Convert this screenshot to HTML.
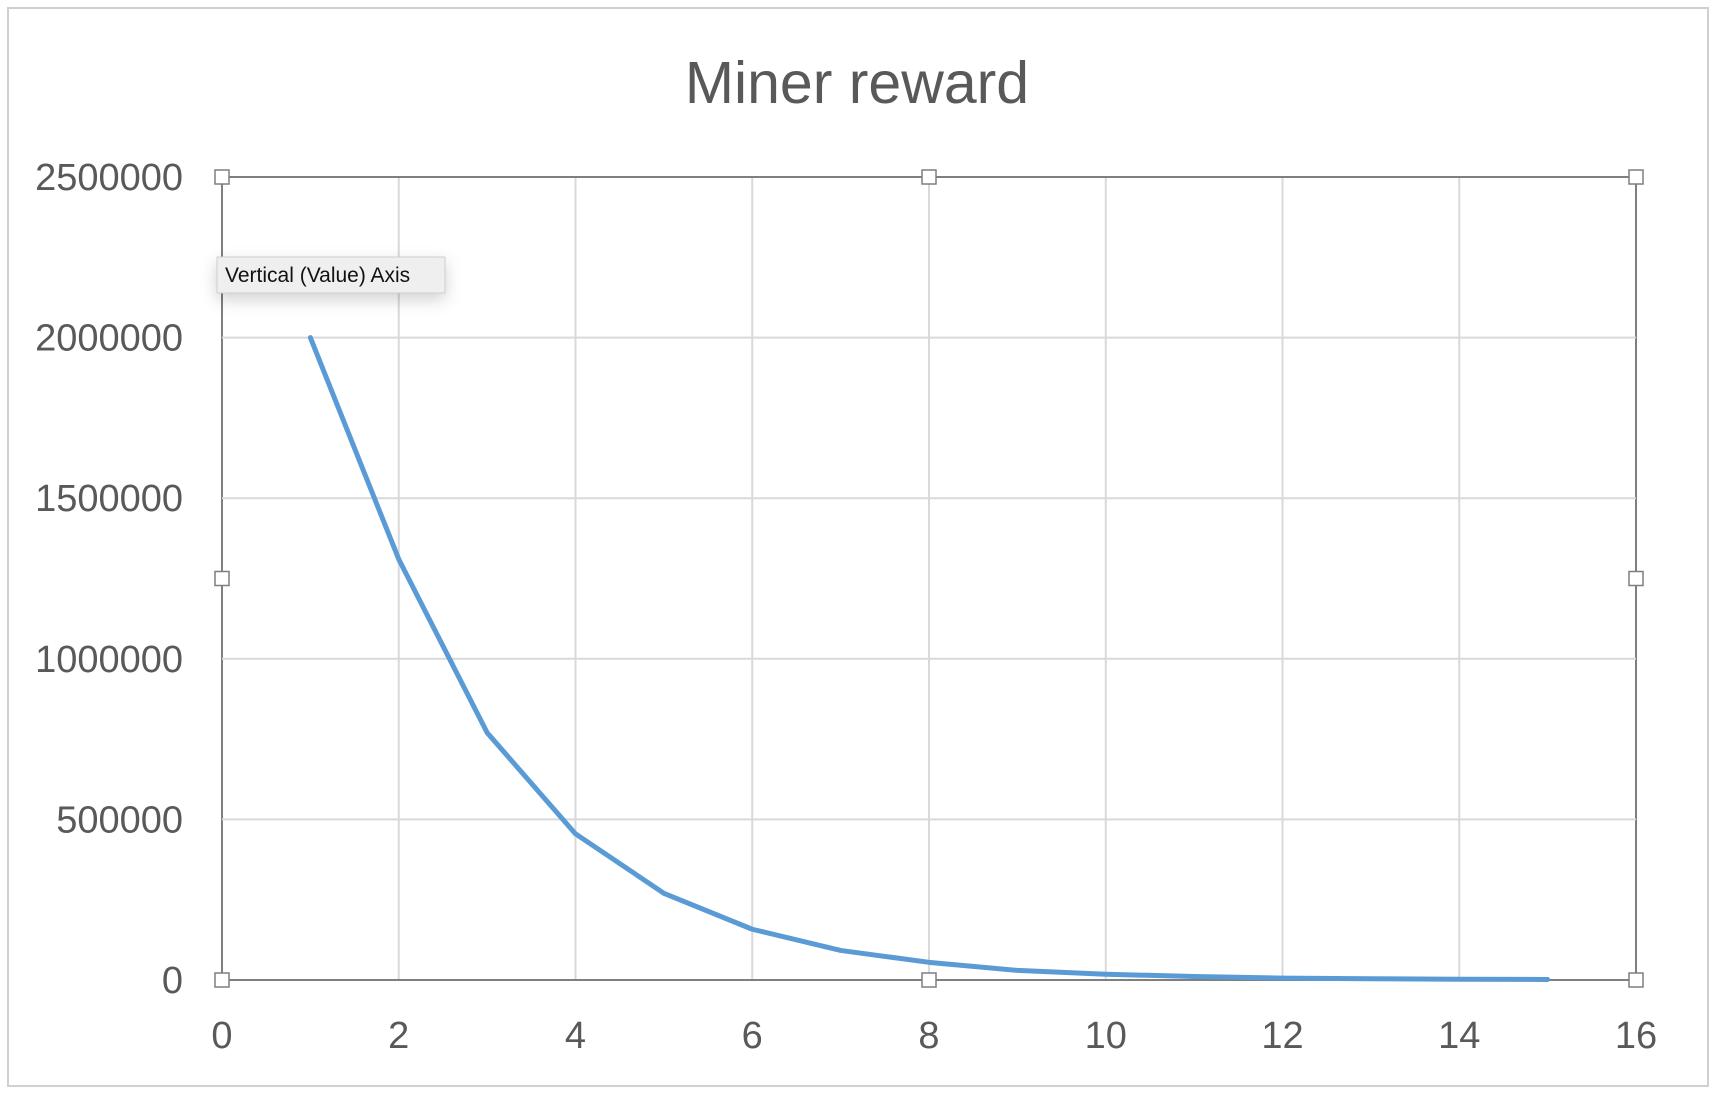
<!DOCTYPE html>
<html><head><meta charset="utf-8"><style>
body{margin:0;background:#fff;width:1712px;height:1098px;overflow:hidden;font-family:"Liberation Sans",sans-serif}
</style></head><body>
<svg width="1712" height="1098">
<rect x="8" y="8" width="1700" height="1078" fill="#fff" stroke="#d0d0d0" stroke-width="2"/>
<text x="857" y="103" text-anchor="middle" font-size="59" fill="#595959">Miner reward</text>
<g id="grid"></g><g id="axes"></g><g id="series"></g><g id="handles"></g>
<g>
<rect x="217" y="257" width="228" height="36" fill="#efefef" stroke="#cfcfcf" style="filter:drop-shadow(0 6px 8px rgba(0,0,0,0.18))"/>
<text x="225" y="282" font-size="21" fill="#111">Vertical (Value) Axis</text>
</g>
</svg>
<script>
const xTicks=[0,2,4,6,8,10,12,14,16];
const yTicks=[0,500000,1000000,1500000,2000000,2500000];
const xValues=[1,2,3,4,5,6,7,8,9,10,11,12,13,14,15];
const rewards=[2000000,1310000,770000,455000,270000,158000,92000,55000,30000,18000,11000,6000,4000,2500,1500];
const L=222,R=1636,T=177,B=980;
const sx=v=>L+(v-0)/(16-0)*(R-L);
const sy=v=>B-(v/2500000)*(B-T);
const NS="http://www.w3.org/2000/svg";
function mk(tag,attrs,parent){const e=document.createElementNS(NS,tag);for(const k in attrs)e.setAttribute(k,attrs[k]);document.getElementById(parent).appendChild(e);return e;}
xTicks.forEach(t=>{
 const g=mk('line',{x1:sx(t),x2:sx(t),y1:T,y2:B,stroke:(t===0||t===16)?'#7f7f7f':'#d9d9d9','stroke-width':2},'grid');
 
 
 const tx=mk('text',{x:sx(t),y:1048,'text-anchor':'middle','font-size':38,fill:'#595959'},'axes');
 tx.textContent=t;
 
 
});
yTicks.forEach(t=>{
 const g=mk('line',{x1:L,x2:R,y1:sy(t),y2:sy(t),stroke:(t===0||t===2500000)?'#7f7f7f':'#d9d9d9','stroke-width':2},'grid');
 
 
 const tx=mk('text',{x:183,y:sy(t)+13,'text-anchor':'end','font-size':38,fill:'#595959'},'axes');
 tx.textContent=t;
 
 
});
const p=mk('polyline',{points:xValues.map((x,i)=>sx(x)+','+sy(rewards[i])).join(' '),fill:'none',stroke:'#5b9bd5','stroke-width':5,'stroke-linejoin':'round','stroke-linecap':'round'},'series');


[[L,T],[(L+R)/2,T],[R,T],[L,(T+B)/2],[R,(T+B)/2],[L,B],[(L+R)/2,B],[R,B]].forEach(([x,y])=>{
 const h=mk('rect',{x:x-7,y:y-7,width:14,height:14,fill:'#fff',stroke:'#7f7f7f','stroke-width':1.5},'handles');
 
 
});
</script>
</body></html>
